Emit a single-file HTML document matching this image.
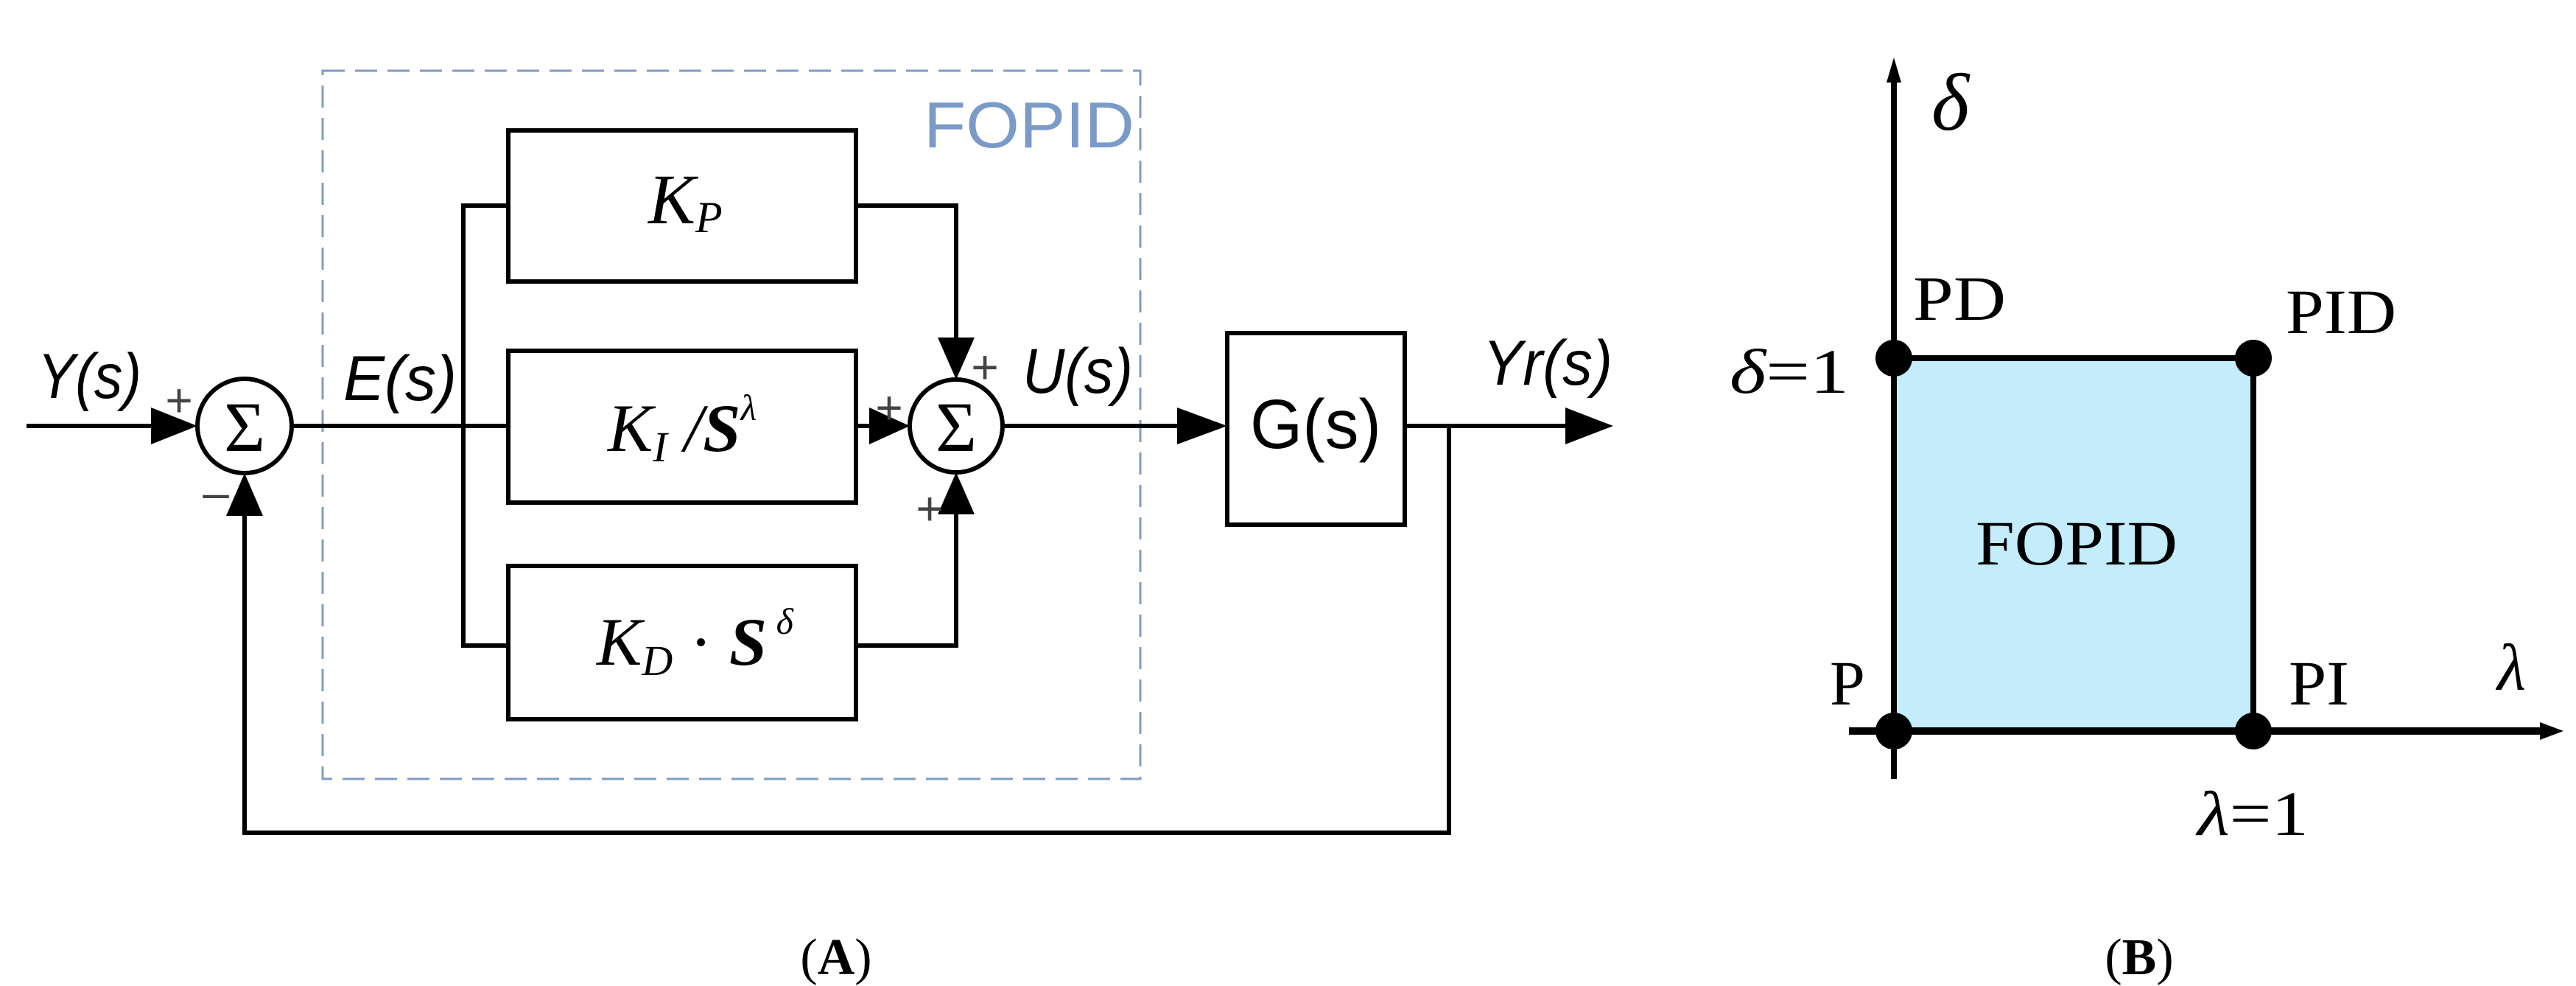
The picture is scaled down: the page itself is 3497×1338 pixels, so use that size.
<!DOCTYPE html>
<html><head><meta charset="utf-8"><style>html,body{margin:0;padding:0;background:#fff}svg{display:block}</style></head>
<body>
<svg width="3497" height="1338" viewBox="0 0 3497 1338" xmlns="http://www.w3.org/2000/svg">
<g fill="none" stroke="#000" stroke-width="6">
<rect x="438" y="96" width="1110" height="961" stroke="#7f9cc4" stroke-width="3" stroke-dasharray="30,14"/>
<rect x="690" y="177" width="472" height="205"/>
<rect x="690" y="476" width="472" height="206"/>
<rect x="690" y="768" width="472" height="208"/>
<rect x="1666" y="452" width="241" height="260"/>
<ellipse cx="332" cy="578" rx="64" ry="64"/>
<ellipse cx="1298" cy="578" rx="63" ry="63"/>
<line x1="36" y1="578" x2="205" y2="578"/>
<line x1="396" y1="578" x2="690" y2="578"/>
<polyline points="690,279 629,279 629,876 690,876"/>
<polyline points="1162,279 1298,279 1298,460"/>
<polyline points="1162,876 1298,876 1298,696"/>
<line x1="1162" y1="578" x2="1180" y2="578"/>
<line x1="1361" y1="578" x2="1600" y2="578"/>
<line x1="1907" y1="578" x2="2130" y2="578"/>
<polyline points="1967,578 1967,1130 332,1130 332,700"/>
</g>
<g fill="#000">
<path d="M205,553 L268,578 L205,603 z"/>
<path d="M1180,553 L1235,578 L1180,603 z"/>
<path d="M1598,553 L1666,578 L1598,603 z"/>
<path d="M2125,553 L2190,578 L2125,603 z"/>
<path d="M1273,458 L1323,458 L1298,515 z"/>
<path d="M1273,698 L1323,698 L1298,641 z"/>
<path d="M307,700 L357,700 L332,642 z"/>
</g>
<g font-family="Liberation Serif, serif" font-size="96" text-anchor="middle">
<text x="332" y="612">Σ</text>
<text x="1298" y="612">Σ</text>
</g>
<g font-family="Liberation Sans, sans-serif" font-size="64" fill="#444" text-anchor="middle">
<text x="243" y="565">+</text>
<text x="1207" y="575">+</text>
<text x="1337" y="520">+</text>
<text x="1262" y="712">+</text>
<text x="293" y="690">–</text>
</g>
<g font-family="Liberation Sans, sans-serif" font-style="italic" font-size="86" fill="#000">
<text x="51" y="540" textLength="141" lengthAdjust="spacingAndGlyphs">Y(s)</text>
<text x="466" y="543" textLength="154" lengthAdjust="spacingAndGlyphs">E(s)</text>
<text x="1388" y="533" textLength="150" lengthAdjust="spacingAndGlyphs">U(s)</text>
<text x="2013" y="522" textLength="176" lengthAdjust="spacingAndGlyphs">Yr(s)</text>
</g>
<text x="1697" y="608" font-family="Liberation Sans, sans-serif" font-size="95" textLength="178" lengthAdjust="spacingAndGlyphs">G(s)</text>
<text x="1254" y="200" font-family="Liberation Sans, sans-serif" font-size="88" fill="#7a9ac8" textLength="286" lengthAdjust="spacingAndGlyphs">FOPID</text>
<g font-family="Liberation Serif, serif" font-style="italic" fill="#000">
<text x="880" y="303" font-size="96">K<tspan font-size="60" dy="12">P</tspan></text>
<text x="825" y="612" font-size="92">K<tspan font-size="58" dy="14">I</tspan><tspan dy="-14"> /</tspan><tspan font-weight="bold">S</tspan><tspan font-size="50" dy="-42">λ</tspan></text>
<text x="810" y="902" font-size="92">K<tspan font-size="58" dy="14">D</tspan><tspan dy="-14" font-style="normal"> · </tspan><tspan font-weight="bold">S</tspan><tspan font-size="50" dy="-42"> δ</tspan></text>
</g>
<text x="1135" y="1322" font-family="Liberation Serif, serif" font-size="70" text-anchor="middle">(<tspan font-weight="bold">A</tspan>)</text>
<rect x="2571" y="486" width="488" height="506" fill="#c4ecfb"/>
<g stroke="#000" stroke-width="8" fill="none">
<line x1="2571" y1="1057" x2="2571" y2="100"/>
<line x1="2510" y1="992" x2="3460" y2="992" stroke-width="10"/>
<polyline points="2571,486 3059,486 3059,992"/>
</g>
<g fill="#000">
<path d="M2561,112 L2571,78 L2581,112 z"/>
<path d="M3448,980 L3480,992 L3448,1004 z"/>
<ellipse cx="2571" cy="486" rx="25" ry="25"/>
<ellipse cx="3059" cy="486" rx="25" ry="25"/>
<ellipse cx="2571" cy="992" rx="25" ry="25"/>
<ellipse cx="3059" cy="992" rx="25" ry="25"/>
</g>
<g font-family="Liberation Serif, serif" font-size="86" fill="#000">
<text x="2597" y="434" textLength="126" lengthAdjust="spacingAndGlyphs">PD</text>
<text x="3103" y="452" textLength="150" lengthAdjust="spacingAndGlyphs">PID</text>
<text x="2682" y="766" textLength="274" lengthAdjust="spacingAndGlyphs">FOPID</text>
<text x="2484" y="956">P</text>
<text x="3107" y="956" textLength="82" lengthAdjust="spacingAndGlyphs">PI</text>
<text x="2348" y="533" textLength="162" lengthAdjust="spacingAndGlyphs"><tspan font-style="italic">δ</tspan>=1</text>
<text x="2983" y="1133" textLength="151" lengthAdjust="spacingAndGlyphs"><tspan font-style="italic">λ</tspan>=1</text>
<text x="2622" y="176" font-style="italic" font-size="110">δ</text>
<text x="3390" y="936" font-style="italic" font-size="90">λ</text>
</g>
<text x="2904" y="1322" font-family="Liberation Serif, serif" font-size="70" text-anchor="middle">(<tspan font-weight="bold">B</tspan>)</text>
</svg>
</body></html>
